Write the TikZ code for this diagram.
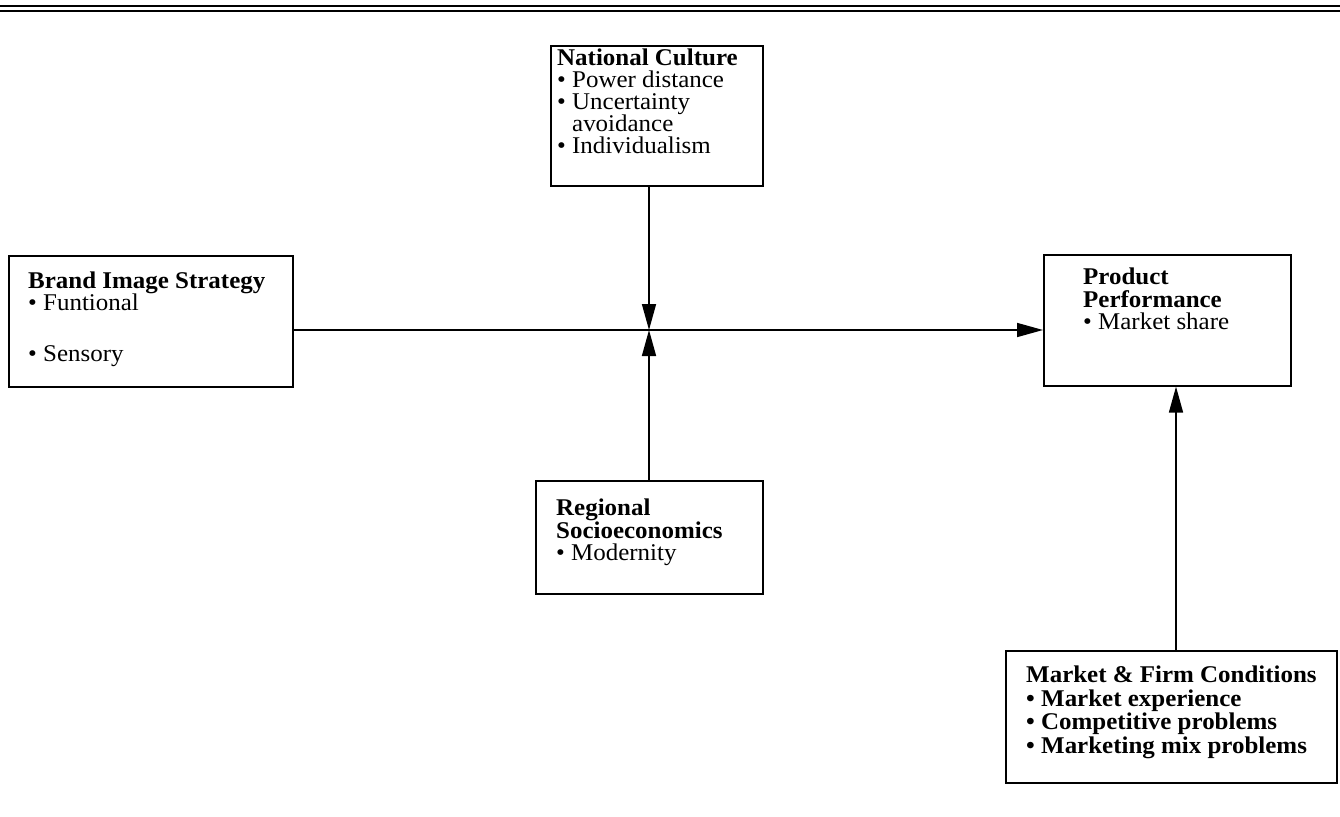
\documentclass[tikz,border=0pt]{standalone}
\usepackage{fontspec}
\setmainfont{Liberation Serif}[FakeStretch=1.04]
\usetikzlibrary{arrows.meta}
\begin{document}
\begin{tikzpicture}[x=1pt,y=-1pt,
  box/.style={draw, line width=1.6pt, inner sep=0pt, anchor=north west},
  txt/.style={anchor=north west, inner sep=0pt, align=left, font=\fontsize{24}{22}\selectfont},
  arr/.style={line width=1.6pt, -{Triangle[length=26pt,width=14pt]}},
  rule/.style={line width=1.8pt}]
\useasboundingbox (0,0) rectangle (1340,816);
\coordinate (r1l) at (0,6);  \coordinate (r1r) at (1340,6);
\coordinate (r2l) at (0,11); \coordinate (r2r) at (1340,11);
\draw[rule] (r1l) -- (r1r);
\draw[rule, line width=1.2pt] (r2l) -- (r2r);
% boxes
\node[box, minimum width=284pt, minimum height=131pt] (brand) at (8,255) {};
\node[box, minimum width=212pt, minimum height=140pt] (nat) at (550,45) {};
\node[box, minimum width=247pt, minimum height=131pt] (prod) at (1043,254) {};
\node[box, minimum width=227pt, minimum height=113pt] (reg) at (535,480) {};
\node[box, minimum width=331pt, minimum height=132pt] (mkt) at (1005,650) {};
% texts
\node[txt] (brandt) at (28,272) {\textbf{Brand Image Strategy}\\\textbullet\ Funtional\\[29pt]\textbullet\ Sensory};
\node[txt] (natt) at (557,49) {\textbf{National Culture}\\\textbullet\ Power distance\\\textbullet\ Uncertainty\\\phantom{\textbullet\ }avoidance\\\textbullet\ Individualism};
\node[txt, font=\fontsize{24}{22.5}\selectfont] (prodt) at (1083,268) {\textbf{Product}\\\textbf{Performance}\\\textbullet\ Market share};
\node[txt, font=\fontsize{24}{22.5}\selectfont] (regt) at (556,499) {\textbf{Regional}\\\textbf{Socioeconomics}\\\textbullet\ Modernity};
\node[txt, font=\fontsize{24}{23.5}\selectfont] (mktt) at (1026,666) {\textbf{Market \& Firm Conditions}\\\textbf{\textbullet\ Market experience}\\\textbf{\textbullet\ Competitive problems}\\\textbf{\textbullet\ Marketing mix problems}};
% connectors
\coordinate (mid) at (649,330);
\coordinate (mx) at (1176,0);
\draw[arr] (brand.east |- mid) -- (prod.west |- mid);
\draw[arr] (mid |- nat.south) -- (mid);
\draw[arr] (mid |- reg.north) -- (mid);
\draw[arr] (mx |- mkt.north) -- (mx |- prod.south);
\end{tikzpicture}
\end{document}
